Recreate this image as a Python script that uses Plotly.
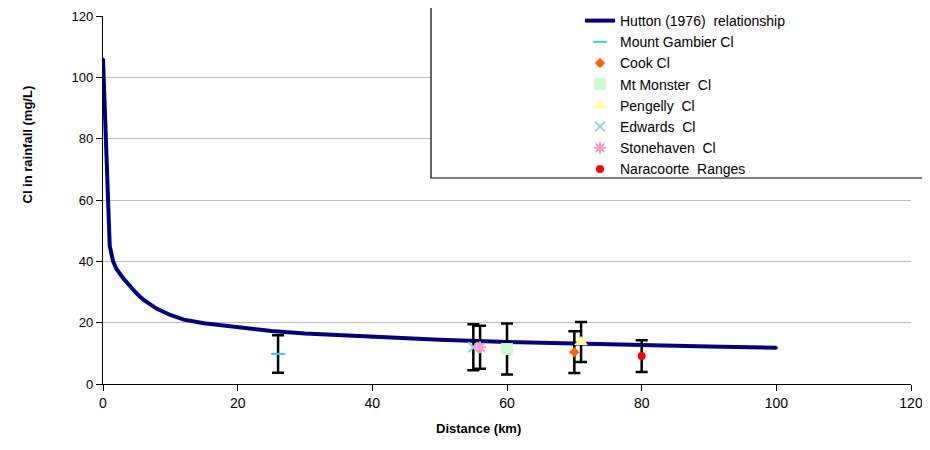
import plotly.graph_objects as go

# Hutton (1976) relationship
hutton_x = [0, 1, 1.5, 2, 3, 4, 5, 6, 8, 10, 12, 15, 20, 25, 30, 40, 50, 60, 70, 80, 90, 100]
hutton_y = [106, 45, 40, 37.5, 34.5, 32, 29.5, 27.5, 24.5, 22.5, 21, 19.8, 18.6, 17.3, 16.5, 15.3, 14.4, 13.7, 13.1, 12.8, 12.2, 11.8]

# Sites
site_names = ["Mount Gambier Cl", "Cook Cl", "Mt Monster  Cl", "Pengelly  Cl", "Edwards  Cl", "Stonehaven  Cl", "Naracoorte  Ranges"]
site_x = [26, 70, 60, 71, 55, 56, 80]
site_y = [9.8, 10.4, 11.4, 13.7, 12.0, 12.0, 9.1]
site_err = [6.1, 6.8, 8.3, 6.5, 7.5, 7.0, 5.2]
site_colors = ["#33CCFF", "#FF6600", "#CCFFCC", "#FFFF99", "#99CCFF", "#FF99CC", "#FF0000"]
site_symbols = ["line-ew-open", "diamond", "square", "triangle-up", "x-thin-open", "asterisk-open", "circle"]
site_sizes = [10, 8, 12, 12, 10, 10, 8]

x_ticks = [0, 20, 40, 60, 80, 100, 120]
y_ticks = [0, 20, 40, 60, 80, 100, 120]

fig = go.Figure()
fig.add_trace(go.Scatter(
    x=hutton_x, y=hutton_y, mode="lines+markers",
    name="Hutton (1976)  relationship",
    line=dict(color="#000080", width=4),
    marker=dict(size=3, color="#000080"),
))
for n, x, y, e, c, s, sz in zip(site_names, site_x, site_y, site_err, site_colors, site_symbols, site_sizes):
    open_sym = s.endswith("open")
    fig.add_trace(go.Scatter(
        x=[x], y=[y], mode="markers", name=n,
        marker=dict(symbol=s, size=sz, color=c,
                    line=dict(color=c, width=2 if open_sym else 0)),
        error_y=dict(type="data", array=[e], color="black", thickness=2.5, width=6),
    ))

OFF = 8  # page body margin
W, H = 930 - OFF, 450 - OFF
px_l, px_r, px_t, px_b = 103 - OFF, 911 - OFF, 16 - OFF, 384 - OFF
pw, ph = px_r - px_l, px_b - px_t

def pxx(p):
    return (p - OFF - px_l) / pw

def pxy(p):
    return (px_b - (p - OFF)) / ph

# legend frame
fig.add_shape(type="rect", xref="paper", yref="paper",
              x0=pxx(431), x1=pxx(960), y0=pxy(178), y1=pxy(-20),
              line=dict(color="black", width=1.2), fillcolor="white", layer="above")

fig.add_annotation(text="<b>Distance (km)</b>", xref="paper", yref="paper",
                   x=pxx(478), y=pxy(438), showarrow=False,
                   font=dict(size=13, color="black", family="Liberation Sans, Arial"))
fig.add_annotation(text="<b>Cl in rainfall (mg/L)</b>", xref="paper", yref="paper",
                   x=pxx(18), y=pxy(145), showarrow=False, textangle=-90,
                   font=dict(size=13, color="black", family="Liberation Sans, Arial"))

fig.update_layout(
    width=W, height=H,
    margin=dict(l=px_l, r=W - px_r, t=px_t, b=H - px_b, autoexpand=False),
    paper_bgcolor="white", plot_bgcolor="white",
    font=dict(family="Liberation Sans, Arial", size=15, color="black"),
    showlegend=True,
    legend=dict(x=pxx(580), y=pxy(5), xanchor="left", yanchor="top",
                bgcolor="rgba(0,0,0,0)", font=dict(size=14, color="black"),
                tracegroupgap=0, itemwidth=30),
    xaxis=dict(range=[0, 120], tickvals=x_ticks, showgrid=False, zeroline=False,
               showline=True, linecolor="black", linewidth=1.2, automargin=False,
               ticks="outside", ticklen=6, tickcolor="black",
               tickfont=dict(size=14, color="black")),
    yaxis=dict(range=[0, 120], tickvals=y_ticks, showgrid=True, gridcolor="#BBBBBB",
               gridwidth=1.2, zeroline=False, automargin=False,
               showline=True, linecolor="black", linewidth=1.2,
               ticks="outside", ticklen=6, tickcolor="black",
               tickfont=dict(size=13, color="black")),
)

fig.write_html("out.html")
